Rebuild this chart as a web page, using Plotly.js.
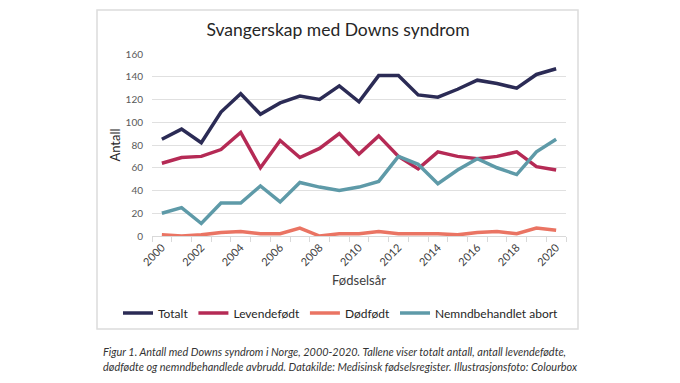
<!DOCTYPE html>
<html>
<head>
<meta charset="utf-8">
<script src="https://cdn.plot.ly/plotly-3.0.1.min.js"></script>
<style>
html,body{margin:0;padding:0;background:#fff;}
#chart{width:680px;height:383px;}
</style>
</head>
<body>
<div id="chart"></div>
<script>
const years = [2000,2001,2002,2003,2004,2005,2006,2007,2008,2009,2010,2011,2012,2013,2014,2015,2016,2017,2018,2019,2020];
const totalt = [85,94,82,109,125,107,117,123,120,132,118,141,141,124,122,129,137,134,130,142,147];
const levendefodt = [64,69,70,76,91,60,84,69,77,90,72,88,70,59,74,70,68,70,74,61,58];
const dodfodt = [1,0,1,3,4,2,2,7,0,2,2,4,2,2,2,1,3,4,2,7,5];
const nemnd = [20,25,11,29,29,44,30,47,43,40,43,48,70,63,46,58,68,60,54,74,85];
const seriesNames = ['Totalt','Levendefødt','Dødfødt','Nemndbehandlet abort'];
const yTicks = [0,20,40,60,80,100,120,140,160];
const xTickLabels = ['2000','2002','2004','2006','2008','2010','2012','2014','2016','2018','2020'];
const titleText = 'Svangerskap med Downs syndrom';
const caption1 = 'Figur 1. Antall med Downs syndrom i Norge, 2000-2020. Tallene viser totalt antall, antall levendefødte,';
const caption2 = 'dødfødte og nemndbehandlede avbrudd. Datakilde: Medisinsk fødselsregister. Illustrasjonsfoto: Colourbox';

const colors = ['#2b2b55','#b52a55','#ea7463','#5e9aa8'];
const data = [totalt, levendefodt, dodfodt, nemnd].map((v,i)=>({
  x: years, y: v, type:'scatter', mode:'lines', name: seriesNames[i],
  line:{color:colors[i], width:3.5}
}));

// plot area in px: x 152..566, y 54..236
const L=152, R=566, T=54, B=236, W=680, H=383;
const px = p => (p-L)/(R-L);
const py = p => (B-p)/(B-T);

const layout = {
  width:W, height:H,
  margin:{l:L, r:W-R, t:T, b:H-B, pad:0},
  paper_bgcolor:'#fff', plot_bgcolor:'#fff',
  font:{family:'Lato, "Open Sans", sans-serif', color:'#404040'},
  title:{text:titleText, font:{size:17.5, color:'#262626', family:'Lato, "Open Sans", sans-serif'},
         xref:'paper', x:px(338), xanchor:'center', yref:'container', y:1-30/H, yanchor:'middle'},
  showlegend:true,
  legend:{orientation:'h', xref:'paper', x:px(118), xanchor:'left', yref:'paper', y:py(313), yanchor:'middle',
          font:{size:12, color:'#262626'}, itemwidth:30, tracegroupgap:0, bgcolor:'rgba(0,0,0,0)'},
  xaxis:{
    range:[1999.5,2020.5], tickmode:'array', tickvals:xTickLabels.map(Number), ticktext:xTickLabels,
    tickangle:-45, tickfont:{size:11, color:'#404040'}, ticks:'', showgrid:false, zeroline:false,
    showline:true, linecolor:'#d9d9d9', linewidth:1,
    minor:{tickmode:'linear', tick0:1999.5, dtick:1, ticks:'outside', ticklen:5, tickcolor:'#d9d9d9', showgrid:false},
    title:{text:'Fødselsår', font:{size:13, color:'#404040'}, standoff:8}
  },
  yaxis:{
    range:[0,160], tickmode:'array', tickvals:yTicks, tickfont:{size:10, color:'#595959'},
    showgrid:true, gridcolor:'#e0e0e0', gridwidth:1, zeroline:false, showline:false, ticks:'',
    ticklabelstandoff:8,
    title:{text:'Antall', font:{size:13, color:'#262626'}, standoff:2}
  },
  shapes:[{type:'rect', xref:'paper', yref:'paper', x0:px(97), x1:px(578), y0:py(329), y1:py(10),
           line:{color:'#dcdcdc', width:1.5}, fillcolor:'rgba(0,0,0,0)', layer:'below'}],
  annotations:[
    {text:caption1, xref:'paper', yref:'paper', x:px(101), y:py(351), xanchor:'left', yanchor:'middle', showarrow:false,
     font:{size:10.9, color:'#333', family:'Lato, "Open Sans", sans-serif'}},
    {text:caption2, xref:'paper', yref:'paper', x:px(101), y:py(366), xanchor:'left', yanchor:'middle', showarrow:false,
     font:{size:10.9, color:'#333', family:'Lato, "Open Sans", sans-serif'}}
  ]
};
layout.annotations.forEach(a=>{a.text='<i>'+a.text+'</i>';});
Plotly.newPlot('chart', data, layout, {displayModeBar:false, staticPlot:true});
</script>
</body>
</html>
